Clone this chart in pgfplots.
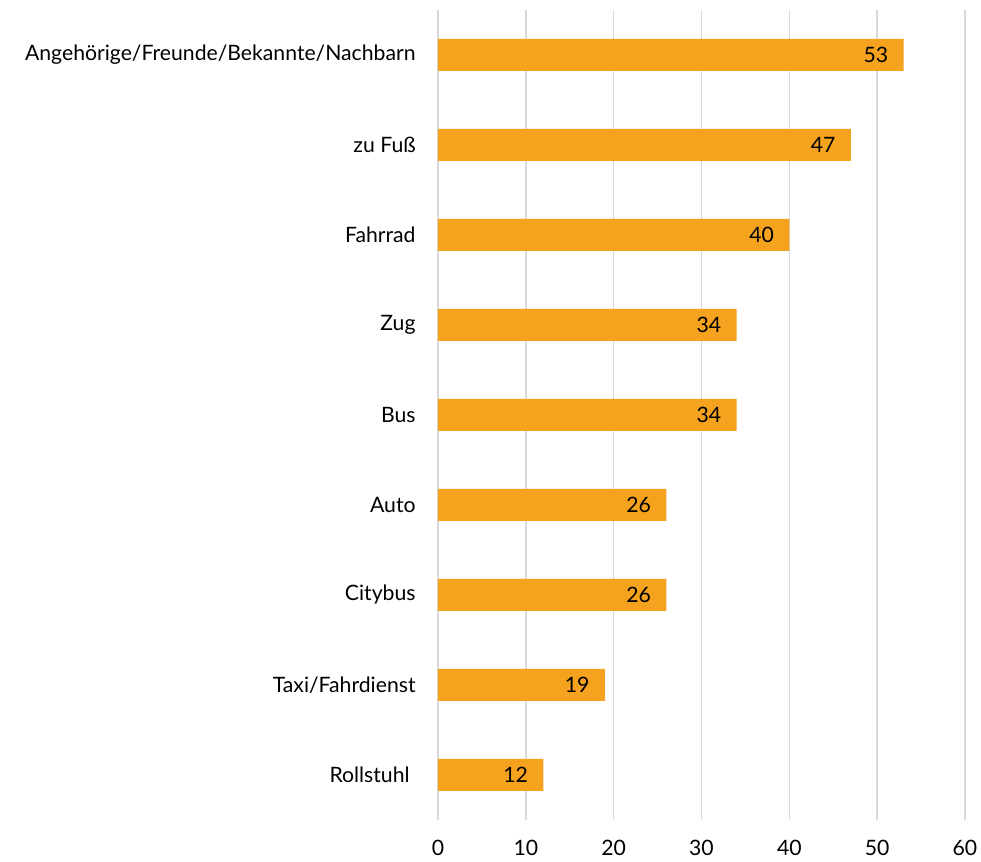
\documentclass[border=0pt]{standalone}
\usepackage{fontspec}
\setmainfont{Lato}
\usepackage{pgfplots}
\pgfplotsset{compat=1.18}
\definecolor{barorange}{HTML}{F5A31E}
\definecolor{gridgray}{HTML}{D9D9D9}
\begin{document}
\begin{tikzpicture}
\path[use as bounding box] (-219pt,-21pt) rectangle (271.5pt,410pt);
\begin{axis}[
  at={(0,0)}, anchor=south west,
  scale only axis,
  width=263.5pt, height=405pt,
  xbar, bar width=16pt,
  xmin=0, xmax=60,
  ymin=-0.5, ymax=8.5,
  xtick={0,10,...,60},
  ytick={0,...,8},
  yticklabels={Rollstuhl\hspace*{3pt},Taxi/Fahrdienst,Citybus,Auto,Bus,Zug,Fahrrad,zu Fuß,Angehörige/Freunde/Bekannte/Nachbarn},
  axis line style={draw=none},
  major tick length=0pt,
  xmajorgrids,
  grid style={gridgray, line width=0.8pt},
  font=\fontsize{10.6}{13}\selectfont,
  /pgf/number format/assume math mode=true,
  yticklabel style={inner sep=0pt, anchor=east, xshift=-11pt},
  xticklabel style={inner sep=0pt, anchor=north, yshift=-10pt},
  nodes near coords,
  nodes near coords style={anchor=east, inner sep=0pt, xshift=-7.5pt, font=\fontsize{10.6}{13}\selectfont, text=black},
  clip=false,
]
\addplot[fill=barorange, draw=none] coordinates {
(12,0) (19,1) (26,2) (26,3) (34,4) (34,5) (40,6) (47,7) (53,8)
};
\end{axis}
\end{tikzpicture}
\end{document}
